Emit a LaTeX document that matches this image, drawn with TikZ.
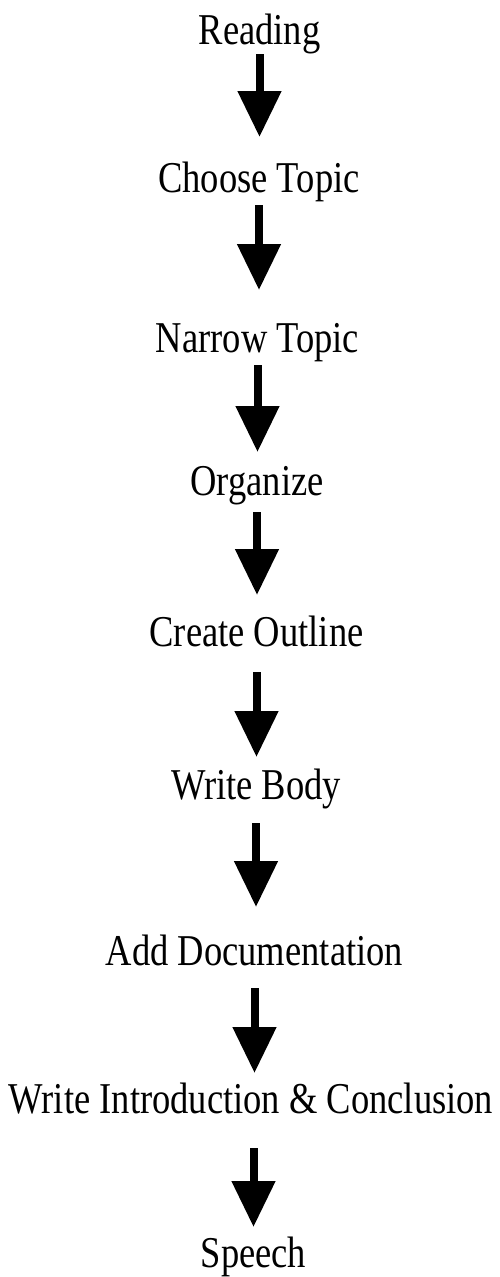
\documentclass[tikz,border=0pt]{standalone}
\usepackage{fontspec}
\setmainfont{Liberation Serif}[FakeStretch=0.83]
\usetikzlibrary{arrows.meta}

\begin{document}
\begin{tikzpicture}[x=1pt, y=-1pt,
                    stage/.style={inner sep=0pt, anchor=base, font=\fontsize{44}{50}\selectfont},
                    flow/.style={line width=8pt, -{Triangle[width=42pt,length=46pt]}}]
\useasboundingbox (0,0) rectangle (499,1277);

\node[stage] (1) at (259.5,44) {Reading};
\node[stage] (2) at (259,192) {Choose Topic};
\node[stage] (3) at (257.5,352) {Narrow Topic};
\node[stage] (4) at (257,495) {Organize};
\node[stage] (5) at (256.5,646) {Create Outline};
\node[stage] (6) at (256,799) {Write Body};
\node[stage] (7) at (254.5,965) {Add Documentation};
\node[stage] (8) at (251,1113) {Write Introduction \& Conclusion};
\node[stage] (9) at (253.5,1267) {Speech};

 \path[flow]
    ([yshift=-10pt]1.base) edge ([yshift=55pt]2.base -| 1.base)
    ([yshift=-13pt]2.base) edge ([yshift=62pt]3.base -| 2.base)
    ([yshift=-13pt]3.base) edge ([yshift=43pt]4.base -| 3.base)
    ([yshift=-17pt]4.base) edge ([yshift=51pt]5.base -| 4.base)
    ([yshift=-26pt]5.base) edge ([yshift=42pt]6.base -| 5.base)
    ([yshift=-24pt]6.base) edge ([yshift=58pt]7.base -| 6.base)
    ([yshift=-23pt]7.base) edge ([yshift=40pt]8.base -| 7.base)
    ([yshift=-35pt]8.base -| 9.base) edge ([yshift=40pt]9.base);
\end{tikzpicture}
\end{document}
